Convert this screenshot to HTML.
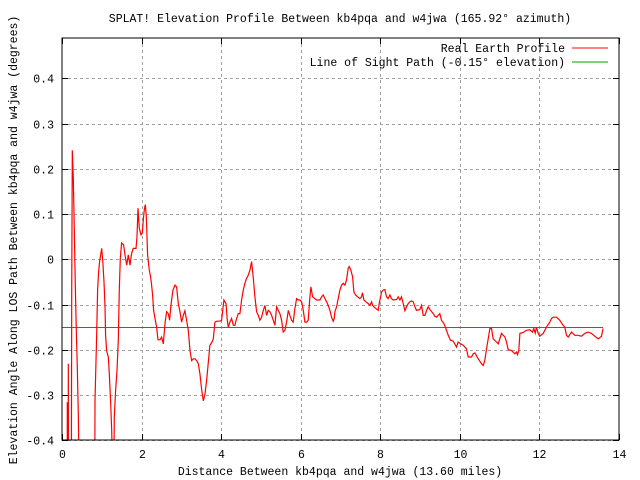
<!DOCTYPE html>
<html><head><meta charset="utf-8"><style>
html,body{margin:0;padding:0;background:#fff;overflow:hidden;width:640px;height:480px}
svg{display:block}
svg text{font-family:"Liberation Mono",monospace;font-size:11.5px;fill:#000}
</style></head><body>
<svg id="chart" width="640" height="480" viewBox="0 0 640 480" xmlns="http://www.w3.org/2000/svg">
<rect width="640" height="480" fill="#fff"/>
<text x="340" y="22" text-anchor="middle">SPLAT! Elevation Profile Between kb4pqa and w4jwa (165.92° azimuth)</text>
<g id="grid"></g>
<g id="ticks"></g>
<defs><clipPath id="pc"><rect x="62" y="38" width="557" height="402"/></clipPath></defs>
<g id="series" clip-path="url(#pc)"></g>
<rect x="62" y="38" width="557" height="402" fill="none" stroke="#000" stroke-width="1"/>
<text x="340" y="475" text-anchor="middle">Distance Between kb4pqa and w4jwa (13.60 miles)</text>
<text transform="translate(17,240) rotate(-90)" text-anchor="middle">Elevation Angle Along LOS Path Between kb4pqa and w4jwa (degrees)</text>
<g>
<text x="565" y="52" text-anchor="end">Real Earth Profile</text>
<line x1="572" y1="48" x2="608" y2="48" stroke="#ff0000" stroke-width="1"/>
<text x="565" y="66" text-anchor="end">Line of Sight Path (-0.15° elevation)</text>
<line x1="572" y1="62" x2="608" y2="62" stroke="#00a000" stroke-width="1"/>
</g>
</svg>
<script>
const xTicks=[0,2,4,6,8,10,12,14];
const yTicks=[-0.4,-0.3,-0.2,-0.1,0,0.1,0.2,0.3,0.4];
const yTickLabels=["-0.4","-0.3","-0.2","-0.1","0","0.1","0.2","0.3","0.4"];
const losElevation=-0.15;
const miles=[0,0.130,0.134,0.14,0.155,0.159,0.165,0.235,0.243,0.260,0.285,0.310,0.335,0.360,0.385,0.410,0.427,0.5,0.82,0.829,0.871,0.896,0.921,0.946,0.972,0.997,1.022,1.055,1.080,1.097,1.122,1.164,1.189,1.223,1.248,1.281,1.30,1.315,1.348,1.382,1.415,1.440,1.466,1.499,1.549,1.583,1.625,1.667,1.709,1.750,1.792,1.859,1.884,1.910,1.943,1.985,2.018,2.044,2.069,2.094,2.119,2.152,2.194,2.228,2.253,2.278,2.303,2.337,2.378,2.412,2.462,2.504,2.546,2.588,2.630,2.672,2.705,2.730,2.755,2.789,2.839,2.881,2.923,2.965,3.007,3.049,3.090,3.132,3.174,3.216,3.258,3.300,3.342,3.384,3.425,3.467,3.509,3.551,3.593,3.635,3.676,3.718,3.760,3.802,3.844,3.886,3.970,
4.012,4.070,4.121,4.154,4.179,4.221,4.263,4.305,4.347,4.389,4.430,4.472,4.514,4.556,4.598,4.640,4.682,4.724,4.766,4.807,4.849,4.891,4.933,4.975,5.017,5.059,5.101,5.142,5.184,5.226,5.268,5.310,5.352,5.394,5.436,5.477,5.519,5.561,5.603,5.645,5.687,5.729,5.771,5.812,5.854,5.896,5.938,5.980,6.022,6.064,6.106,6.147,6.189,6.231,6.256,6.298,6.357,6.399,6.482,6.524,6.566,6.608,6.650,6.692,6.734,6.776,6.817,6.842,6.859,6.901,6.943,6.985,7.027,7.069,7.111,7.152,7.194,7.219,7.261,7.303,7.337,7.379,7.429,7.487,7.529,7.554,7.588,7.638,7.697,7.739,7.781,7.806,7.839,7.889,7.948,7.973,8.007,8.032,8.074,8.116,8.157,8.199,8.241,8.283,8.325,8.409,8.451,8.492,8.534,8.576,8.618,8.660,8.702,8.744,8.786,8.827,8.869,8.911,8.995,9.037,9.079,9.121,9.163,9.204,9.246,9.330,9.372,9.414,9.456,9.497,
9.539,9.598,9.648,9.707,9.766,9.833,9.916,9.958,10.017,10.084,10.168,10.209,10.293,10.335,10.377,10.461,10.544,10.586,10.628,10.670,10.712,10.754,10.796,10.837,10.921,10.963,11.005,11.047,11.131,11.173,11.214,11.298,11.382,11.424,11.449,11.482,11.508,11.591,11.675,11.759,11.826,11.859,11.893,11.926,11.968,12.010,12.094,12.178,12.261,12.303,12.345,12.429,12.513,12.596,12.638,12.680,12.722,12.806,12.889,12.973,13.057,13.141,13.224,13.308,13.392,13.476,13.560,13.601];
const elevation=[-0.6,-0.6,-0.316,-0.6,-0.6,-0.231,-0.6,-0.6,-0.083,0.241,0.180,0.065,-0.057,-0.157,-0.239,-0.342,-0.45,-0.6,-0.6,-0.313,-0.164,-0.068,-0.028,-0.005,0.010,0.024,-0.002,-0.050,-0.105,-0.168,-0.202,-0.216,-0.253,-0.320,-0.379,-0.5,-0.5,-0.350,-0.290,-0.246,-0.179,-0.068,0.002,0.036,0.032,0.010,-0.013,0.010,-0.013,0.013,0.024,0.024,0.050,0.113,0.069,0.054,0.058,0.087,0.110,0.121,0.095,0.010,-0.024,-0.039,-0.057,-0.079,-0.113,-0.131,-0.150,-0.178,-0.178,-0.172,-0.187,-0.142,-0.116,-0.120,-0.135,-0.109,-0.090,-0.068,-0.057,-0.061,-0.098,-0.116,-0.139,-0.124,-0.114,-0.135,-0.157,-0.202,-0.224,-0.220,-0.220,-0.224,-0.231,-0.253,-0.287,-0.313,-0.298,-0.268,-0.228,-0.190,-0.185,-0.176,-0.139,-0.137,-0.137,
-0.135,-0.090,-0.098,-0.135,-0.150,-0.139,-0.131,-0.146,-0.146,-0.131,-0.120,-0.120,-0.090,-0.068,-0.053,-0.042,-0.035,-0.024,-0.005,-0.039,-0.083,-0.116,-0.124,-0.135,-0.128,-0.113,-0.102,-0.124,-0.113,-0.116,-0.124,-0.135,-0.146,-0.105,-0.113,-0.120,-0.135,-0.161,-0.157,-0.139,-0.113,-0.124,-0.135,-0.139,-0.109,-0.087,-0.090,-0.090,-0.094,-0.113,-0.139,-0.139,-0.135,-0.083,-0.061,-0.083,-0.087,-0.090,-0.090,-0.083,-0.079,-0.087,-0.094,-0.102,-0.113,-0.128,-0.137,-0.131,-0.116,-0.105,-0.087,-0.068,-0.057,-0.053,-0.057,-0.046,-0.020,-0.016,-0.024,-0.039,-0.072,-0.079,-0.083,-0.087,-0.083,-0.074,-0.090,-0.094,-0.098,-0.102,-0.094,-0.102,-0.105,-0.109,-0.113,-0.098,-0.083,-0.072,-0.068,-0.067,-0.083,-0.087,-0.079,-0.087,-0.090,-0.089,-0.083,-0.090,-0.083,-0.098,-0.114,-0.105,-0.098,-0.094,-0.092,-0.094,-0.105,-0.113,-0.111,-0.102,-0.124,-0.124,-0.113,-0.105,-0.111,-0.120,-0.126,-0.128,-0.124,-0.120,
-0.135,-0.142,-0.153,-0.168,-0.179,-0.181,-0.194,-0.183,-0.187,-0.190,-0.198,-0.216,-0.216,-0.209,-0.207,-0.220,-0.231,-0.235,-0.224,-0.198,-0.176,-0.153,-0.153,-0.176,-0.183,-0.187,-0.176,-0.164,-0.172,-0.183,-0.200,-0.202,-0.209,-0.205,-0.211,-0.202,-0.164,-0.162,-0.157,-0.156,-0.161,-0.153,-0.163,-0.150,-0.164,-0.170,-0.164,-0.150,-0.139,-0.131,-0.128,-0.128,-0.135,-0.146,-0.150,-0.168,-0.172,-0.161,-0.168,-0.168,-0.170,-0.164,-0.161,-0.164,-0.170,-0.176,-0.170,-0.153];

const X0=62,X1=619,Y0=440,Y1=38;
const xMin=0,xMax=14;
function sx(v){return X0+(v-xMin)/(xMax-xMin)*(X1-X0);}
function sy(v){return 259.3-v*452.1;}
const NS="http://www.w3.org/2000/svg";
function mk(t,a,p){const e=document.createElementNS(NS,t);for(const k in a)e.setAttribute(k,a[k]);p.appendChild(e);return e;}
const grid=document.getElementById('grid'),ticks=document.getElementById('ticks'),series=document.getElementById('series');
yTicks.forEach((v,i)=>{
  const y=Math.round(sy(v))+0.5;
  const g=mk('line',{x1:X0,x2:X1,y1:y,y2:y,stroke:'#a0a0a0','stroke-dasharray':'3,3'},grid);
  
  
  const t1=mk('line',{x1:X0,x2:X0+6,y1:y,y2:y,stroke:'#000'},ticks);
  
  
  const t2=mk('line',{x1:X1-6,x2:X1,y1:y,y2:y,stroke:'#000'},ticks);
  
  
  const l=mk('text',{x:54,y:y+4,'text-anchor':'end'},ticks);
  l.textContent=yTickLabels[i];
  
  
});
xTicks.forEach(v=>{
  const x=Math.round(sx(v))+0.5;
  if(v>xMin&&v<xMax){
    const g=mk('line',{x1:x,x2:x,y1:Y1,y2:Y0,stroke:'#a0a0a0','stroke-dasharray':'3,3'},grid);
    
    
  }
  const t1=mk('line',{x1:x,x2:x,y1:Y0-6,y2:Y0,stroke:'#000'},ticks);
  
  
  const t2=mk('line',{x1:x,x2:x,y1:Y1,y2:Y1+6,stroke:'#000'},ticks);
  
  
  const l=mk('text',{x:x,y:458,'text-anchor':'middle'},ticks);
  l.textContent=String(v);
  
  
});
const ly=Math.round(sy(losElevation))+0.5;
const los=mk('line',{x1:sx(0),x2:sx(miles[miles.length-1]),y1:ly,y2:ly,stroke:'#00a000','stroke-width':1},series);


const pts=miles.map((m,i)=>sx(m).toFixed(1)+','+sy(elevation[i]).toFixed(1)).join(' ');
const pl=mk('polyline',{points:pts,fill:'none',stroke:'#ff0000','stroke-width':1.2},series);


</script>
</body></html>
